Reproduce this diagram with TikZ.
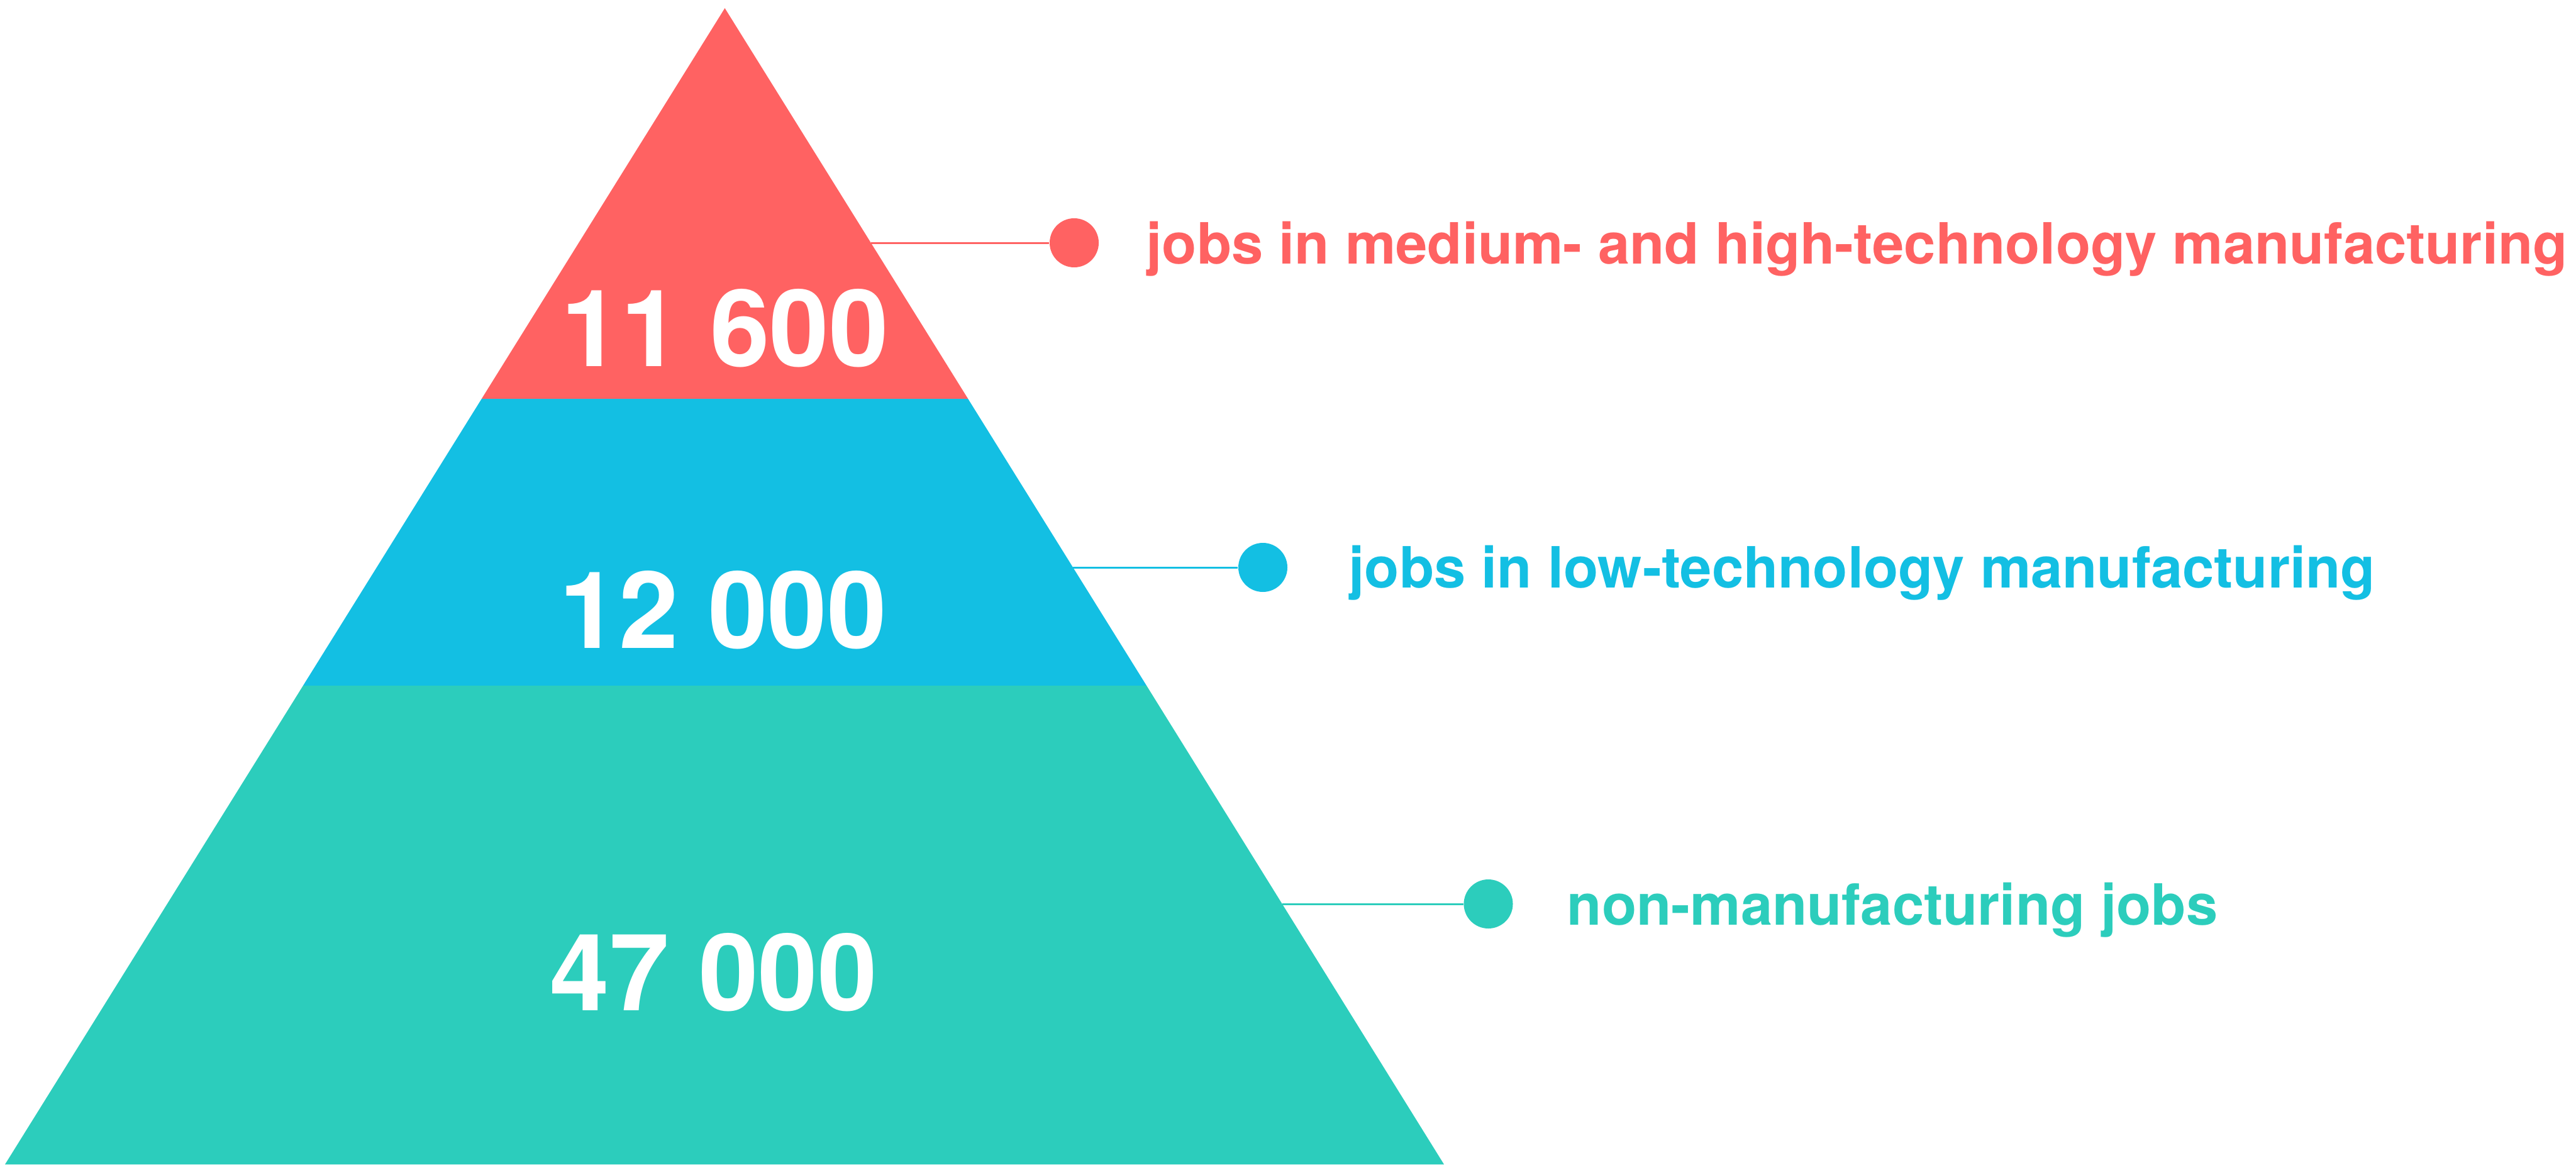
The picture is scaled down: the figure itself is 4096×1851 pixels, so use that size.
\documentclass[tikz,border=0pt]{standalone}
\usepackage{fontspec}
\setmainfont{TeX Gyre Heros}
\definecolor{cred}{HTML}{FF6262}
\definecolor{cblue}{HTML}{13BFE3}
\definecolor{cteal}{HTML}{2CCDBC}
\begin{document}
\begin{tikzpicture}[x=0.25pt,y=-0.25pt,
  num/.style={anchor=base west,inner sep=0,text=white,font=\bfseries\fontsize{42.5}{50}\selectfont},
  lbl/.style={anchor=base west,inner sep=0,font=\bfseries\fontsize{22.6}{27}\selectfont},
  dot/.style={circle,inner sep=0,minimum size=19.5pt},
  conn/.style={line width=0.75pt}]
\useasboundingbox (0,0) rectangle (4096,1851);
% pyramid outline points
\coordinate (apex) at (1152.5,13);
\coordinate (l1) at (765.8,634);
\coordinate (r1) at (1539.2,634);
\coordinate (l2) at (481.9,1090);
\coordinate (r2) at (1823.1,1090);
\coordinate (bl) at (8,1851);
\coordinate (br) at (2296,1851);
% bands
\fill[cred] (apex) -- (r1) -- (l1) -- cycle;
\fill[cblue] (l1) -- (r1) -- (r2) -- (l2) -- cycle;
\fill[cteal] (l2) -- (r2) -- (br) -- (bl) -- cycle;
% numbers
\node[num] (n1) at (892,582) {11 600};
\node[num] (n2) at (889,1030) {12 000};
\node[num] (n3) at (874,1606) {47 000};
% connectors and dots
\coordinate (e1) at (1384.8,386);
\coordinate (e2) at (1706.1,902);
\coordinate (e3) at (2039.2,1437);
\node[dot,fill=cred] (d1) at (1708,386) {};
\node[dot,fill=cblue] (d2) at (2008,902) {};
\node[dot,fill=cteal] (d3) at (2366.5,1437) {};
\draw[conn,cred] (e1) -- (d1);
\draw[conn,cblue] (e2) -- (d2);
\draw[conn,cteal] (e3) -- (d3);
% labels
\node[lbl,text=cred] (t1) at (1822,419) {jobs in medium- and high-technology manufacturing};
\node[lbl,text=cblue] (t2) at (2144,934) {jobs in low-technology manufacturing};
\node[lbl,text=cteal] (t3) at (2491,1470) {non-manufacturing jobs};
\end{tikzpicture}
\end{document}
